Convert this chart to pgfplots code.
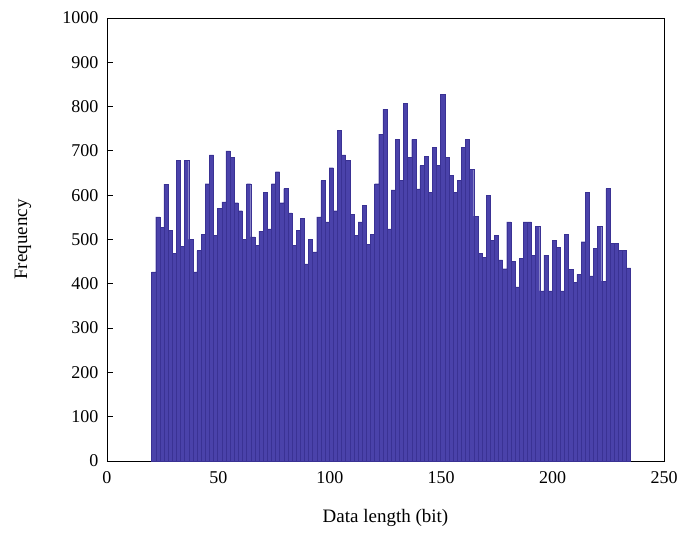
\documentclass[border=0pt]{standalone}
\usepackage{pgfplots}
\usepackage{pgfplotstable}
\pgfplotsset{compat=1.18}
\usepackage{fontspec}
\setmainfont{Liberation Serif}
\definecolor{barfill}{RGB}{74,66,170}
\definecolor{baredge}{RGB}{58,50,148}
\pgfplotstableread{
y
427
551
527
625
521
469
679
485
679
500
427
475
512
626
691
509
571
585
700
686
583
565
501
626
506
487
519
606
524
626
653
583
615
560
487
521
548
445
500
472
551
633
540
662
565
747
691
679
557
509
540
577
489
512
626
738
794
524
612
726
633
807
685
726
614
667
688
606
708
667
828
685
645
606
633
708
726
659
553
469
460
600
498
509
454
434
540
451
393
457
540
540
465
530
384
465
384
498
483
384
512
433
404
421
495
606
418
480
530
406
615
491
491
475
475
436
436
}\histdata
\begin{document}
\begin{tikzpicture}
\path[use as bounding box] (-107pt,-74pt) rectangle (575pt,461pt);
\begin{axis}[
  scale only axis,
  width=557pt, height=443pt,
  xmin=0, xmax=250, ymin=0, ymax=1000,
  xtick={0,50,...,250},
  ytick={0,100,...,1000},
  tick align=inside,
  tick pos=left,
  major tick length=6pt,
  axis line style={line width=0.8pt},
  tick style={line width=0.8pt, black},
  /pgf/number format/assume math mode=true,
  /pgf/number format/1000 sep={},
  ticklabel style={font=\fontsize{18}{20}\selectfont},
  xticklabel shift=7pt,
  yticklabel shift=5pt,
  xlabel={Data length (bit)},
  ylabel={Frequency},
  every axis x label/.style={at={(axis description cs:0.5,-0.1287)},anchor=center,font=\fontsize{19}{22}\selectfont},
  every axis y label/.style={at={(axis description cs:-0.1508,0.5)},rotate=90,anchor=center,font=\fontsize{19}{22}\selectfont},
]
\addplot[ybar interval, fill=barfill, draw=baredge, line width=0.3pt]
  table[x expr={20+\coordindex*215/116}, y=y] {\histdata};
\end{axis}
\end{tikzpicture}
\end{document}
